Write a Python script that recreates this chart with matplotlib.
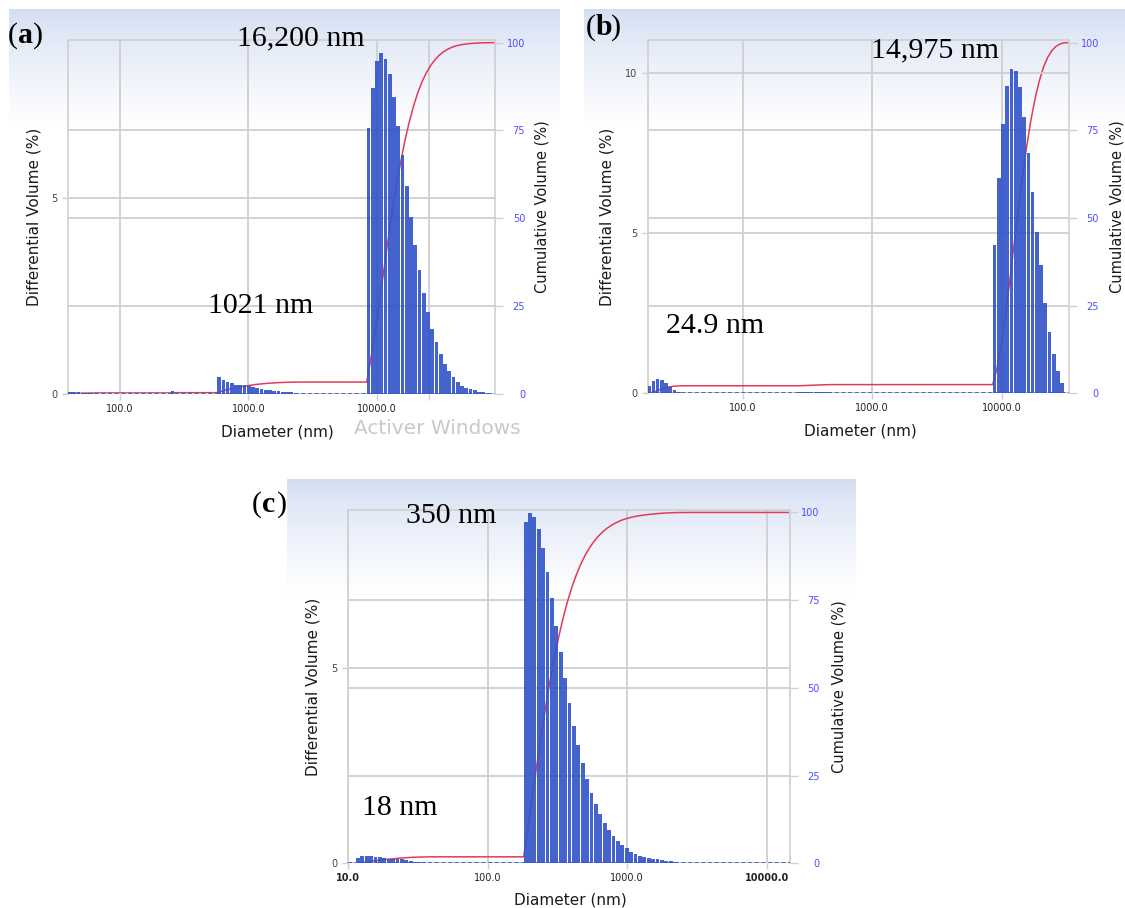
import numpy as np
import matplotlib
matplotlib.use("Agg")
import matplotlib.pyplot as plt
from matplotlib.ticker import NullLocator

W, H = 1125, 908

# ---- data (differential volume %, one value per channel) ----
# panel (a)
a_tail_nm, a_tail = 39.5, [0.03, 0.03, 0.03, 0.02, 0.02, 0.02, 0.02]
a_blip_nm, a_blip = 248, [0.07]
a_small_nm = 573
a_small = [0.41, 0.35, 0.29, 0.26, 0.23, 0.22, 0.21, 0.19, 0.17, 0.14, 0.12,
           0.10, 0.08, 0.07, 0.06, 0.05, 0.04, 0.03, 0.02]
a_main_nm = 8380
a_main = [6.79, 7.83, 8.50, 8.71, 8.56, 8.18, 7.58, 6.85, 6.11, 5.30, 4.52,
          3.81, 3.15, 2.57, 2.08, 1.64, 1.31, 1.00, 0.76, 0.57, 0.42, 0.29,
          0.20, 0.14, 0.11, 0.08, 0.05, 0.03, 0.02]

# panel (b)
b_small_nm = 18.3
b_small = [0.23, 0.38, 0.44, 0.42, 0.32, 0.20, 0.09, 0.05, 0.02]
b_hump_nm = 262
b_hump = [0.03, 0.04, 0.05, 0.05, 0.05, 0.04, 0.04, 0.03]
b_main_nm = 8550
b_main = [4.63, 6.72, 8.42, 9.60, 10.13, 10.08, 9.56, 8.64, 7.52, 6.30, 5.03,
          4.00, 2.83, 1.93, 1.23, 0.70, 0.31]

# panel (c)
c_small_nm = 11.35
c_small = [0.13, 0.19, 0.19, 0.19, 0.15, 0.15, 0.13, 0.12, 0.12, 0.10, 0.10,
           0.09, 0.07, 0.04, 0.04, 0.03, 0.02]
c_main_nm = 181
c_main = [8.72, 8.96, 8.86, 8.54, 8.05, 7.45, 6.77, 6.07, 5.39, 4.73, 4.09,
          3.52, 3.02, 2.56, 2.15, 1.80, 1.51, 1.26, 1.04, 0.85, 0.70, 0.58,
          0.47, 0.38, 0.30, 0.23, 0.19, 0.17, 0.14, 0.12, 0.10, 0.09, 0.07,
          0.05, 0.03, 0.02, 0.02]

cum_ticks = [0, 25, 50, 75, 100]
cum_labels = ["0", "25", "50", "75", "100"]

BAR = "#3456c9"
RED = "#e23a5c"
GRID = "#cfcfcf"
BLUE_TXT = "#4d4dff"

fig = plt.figure(figsize=(W / 100, H / 100), dpi=100)


def frac(x, y):
    return x / W, 1 - y / H


# window-like gradient headers behind each panel
bg = fig.add_axes([0, 0, 1, 1], zorder=-10)
bg.set_xlim(0, W)
bg.set_ylim(H, 0)
bg.axis("off")
top_col = np.array([0.83, 0.87, 0.95])
t = np.linspace(0, 1, 200) ** 0.8
grad = top_col[None, :] * (1 - t[:, None]) + 1.0 * t[:, None]
grad = grad[:, None, :]
for (x0, x1, y0, y1) in [(9, 560, 9, 125), (584, 1125, 9, 125), (287, 856, 479, 595)]:
    bg.imshow(grad, extent=(x0, x1, y1, y0), aspect="auto", origin="upper",
              interpolation="bilinear")


def panel(box, xlim, dtop, ctop, w, segments, xticks, xlabels, dticks,
          bold_x=()):
    left, top, right, bottom = box
    fx, fy = frac(left, bottom)
    rect = [fx, fy, (right - left) / W, (bottom - top) / H]
    axc = fig.add_axes(rect)
    axc.set_facecolor("none")
    axd = axc.twinx()
    axc.set_xscale("log")
    axc.set_xlim(*xlim)
    axc.set_xticks(xticks, xlabels)
    axc.xaxis.set_minor_locator(NullLocator())
    axc.set_ylim(0, ctop)
    axd.set_ylim(0, dtop)

    # cumulative on the right, differential on the left
    axc.yaxis.tick_right()
    axd.yaxis.tick_left()
    axc.set_yticks(cum_ticks, cum_labels)
    axd.set_yticks(dticks, [str(v) for v in dticks])

    axc.tick_params(axis="x", length=4.3, width=1, color=GRID, labelsize=7,
                    labelcolor="#222222", pad=3)
    axc.tick_params(axis="y", length=5.8, width=1, color=GRID, labelsize=7,
                    labelcolor=BLUE_TXT, pad=15.5)
    for lab in axc.get_yticklabels():
        lab.set_horizontalalignment("right")
    axd.tick_params(axis="y", length=4.3, width=1, color=GRID, labelsize=7,
                    labelcolor="#444444", pad=3.5)
    for lab in axc.get_xticklabels():
        if lab.get_text() in bold_x:
            lab.set_fontweight("bold")

    axc.set_axisbelow(True)
    axd.set_axisbelow(True)
    axc.grid(True, color=GRID, lw=1.3)
    axd.grid(True, axis="y", color=GRID, lw=1.3)
    axd.grid(False, axis="x")
    # the top frame already marks 100 %
    axc.yaxis.get_major_ticks()[-1].gridline.set_visible(False)

    for s in ["left", "right", "top"]:
        axc.spines[s].set_color(GRID)
        axc.spines[s].set_linewidth(1.2)
    axc.spines["bottom"].set_visible(False)
    for s in axd.spines.values():
        s.set_visible(False)

    # bars + cumulative curve
    total = sum(sum(h) for _, h in segments)
    cx, cy = [xlim[0]], [0.0]
    run = 0.0
    for start, heights in segments:
        k = np.arange(len(heights))
        lefts = start * 10 ** (w * k)
        rights = start * 10 ** (w * (k + 1))
        widths = start * 10 ** (w * (k + 0.87)) - lefts
        axd.bar(lefts, heights, width=widths, align="edge", color=BAR,
                alpha=0.92, lw=0, zorder=2)
        cx.append(lefts[0])
        cy.append(run / total * 100)
        for r, h in zip(rights, heights):
            run += h
            cx.append(r)
            cy.append(run / total * 100)
    cx.append(xlim[1] * 0.97)
    cy.append(100)
    axc.plot(cx, cy, color=RED, lw=1.1, zorder=2)
    axd.axhline(0, color=BAR, lw=1.2, ls=(0, (2.5, 1.5)), zorder=3)
    return axc, axd


panel((68.3, 40, 495.5, 393.5), (10 ** 1.597, 10 ** 4.927), 9.05, 100.77, 0.0331,
      [(a_tail_nm, a_tail), (a_blip_nm, a_blip), (a_small_nm, a_small),
       (a_main_nm, a_main)],
      [100, 1000, 10000, 25700], ["100.0", "1000.0", "10000.0", ""], [0, 5])

panel((648.3, 40, 1069.3, 393.3), (10 ** 1.270, 10 ** 4.524), 11.04, 100.77, 0.0327,
      [(b_small_nm, b_small), (b_hump_nm, b_hump), (b_main_nm, b_main)],
      [100, 1000, 10000], ["100.0", "1000.0", "10000.0"], [0, 5, 10])

panel((348.3, 510, 790, 863.3), (10, 10 ** 4.167), 9.03, 100.7, 0.0315,
      [(c_small_nm, c_small), (c_main_nm, c_main)],
      [10, 100, 1000, 10000], ["10.0", "100.0", "1000.0", "10000.0"], [0, 5],
      bold_x=("10.0", "10000.0"))

# axis titles
sans = dict(family="DejaVu Sans", color="#1a1a1a")
for x, y in [(34, 217), (607, 217), (312.5, 687)]:
    fig.text(*frac(x, y), "Differential Volume (%)", rotation=90, ha="center",
             va="center", fontsize=11, **sans)
for x, y in [(542, 207), (1116.5, 207), (839.5, 687)]:
    fig.text(*frac(x, y), "Cumulative Volume (%)", rotation=90, ha="center",
             va="center", fontsize=10.5, **sans)
for x, y in [(277, 432), (860, 431), (570, 900)]:
    fig.text(*frac(x, y), "Diameter (nm)", ha="center", va="center",
             fontsize=11, **sans)
fig.text(*frac(437, 428), "Activer Windows", ha="center", va="center",
         fontsize=14.5, family="DejaVu Sans", color="#c9c9c9")

# panel letters and peak annotations
serif = dict(family="Liberation Serif", color="black", fontsize=21.5)
for x, y, letter in [(8, 43, "a"), (586, 35, "b"), (252, 512, "c")]:
    fig.text(*frac(x, y), "(", ha="left", va="baseline", **serif)
    fig.text(*frac(x + 10, y), letter, ha="left", va="baseline",
             fontweight="bold", **serif)
    fig.text(*frac(x + 25, y), ")", ha="left", va="baseline", **serif)

for x, y, s in [(237, 45, "16,200 nm"), (208, 313, "1021 nm"),
                (871, 57.5, "14,975 nm"), (666, 333, "24.9 nm"),
                (406, 523, "350 nm"), (362, 815, "18 nm")]:
    fig.text(*frac(x, y), s, ha="left", va="baseline", **serif)

fig.savefig("out.png", dpi=100)
